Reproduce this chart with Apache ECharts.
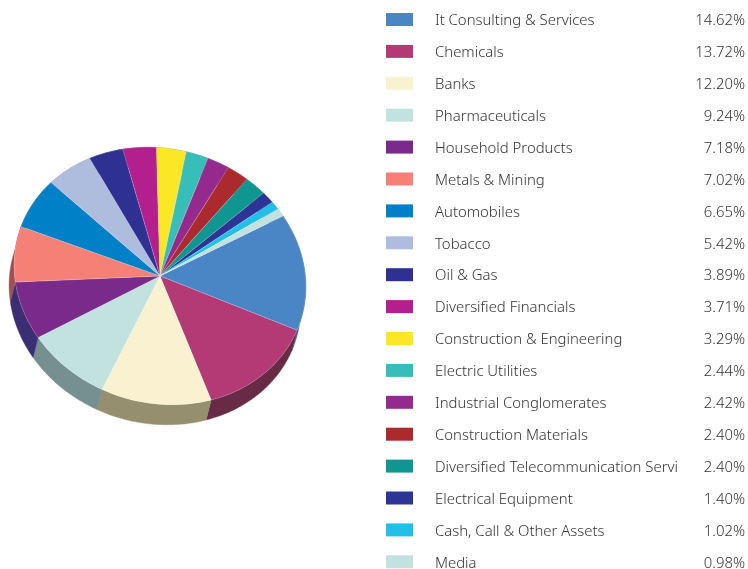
<!DOCTYPE html>
<html>
<head>
<meta charset="utf-8">
<title>Sector allocation</title>
<script src="https://cdn.jsdelivr.net/npm/echarts@6/dist/echarts.min.js"></script>
<style>
  html, body { margin: 0; padding: 0; background: #fff; }
  #chart { width: 748px; height: 569px; }
</style>
</head>
<body>
<div id="chart"></div>
<script>
// Sector names and portfolio weights (%), largest first.
const categories = [
  'It Consulting & Services', 'Chemicals', 'Banks', 'Pharmaceuticals',
  'Household Products', 'Metals & Mining', 'Automobiles', 'Tobacco', 'Oil & Gas',
  'Diversified Financials', 'Construction & Engineering', 'Electric Utilities',
  'Industrial Conglomerates', 'Construction Materials',
  'Diversified Telecommunication Servi', 'Electrical Equipment',
  'Cash, Call & Other Assets', 'Media'
];
const weights = [14.62, 13.72, 12.20, 9.24, 7.18, 7.02, 6.65, 5.42, 3.89, 3.71, 3.29, 2.44, 2.42, 2.40, 2.40, 1.40, 1.02, 0.98];
const weightLabels = ['14.62%', '13.72%', '12.20%', '9.24%', '7.18%', '7.02%', '6.65%', '5.42%', '3.89%', '3.71%', '3.29%', '2.44%', '2.42%', '2.40%', '2.40%', '1.40%', '1.02%', '0.98%'];
const faceColors = ['#4A86C5', '#B43A75', '#F9F1CF', '#C2E2DF', '#7A2A8B', '#F58176', '#0080C6', '#AEBCDE', '#2E3191', '#B41F8E', '#FBE725', '#38BEB9', '#952A8E', '#AA2A2E', '#109690', '#2C3596', '#22BFE8', '#C2E2DF'];
const wallColors = ['#45689A', '#672B46', '#958E6F', '#75908F', '#3B2E74', '#9E4F4F', '#00507C', '#6E7A90', '#1C1F5C', '#701358', '#9C9017', '#237774', '#5D1A58', '#6A1A1D', '#0A5E5A', '#1B215E', '#157890', '#75908F'];

// The tilted disc is an affine image of a circle: each share of the turn maps
// to axisU * cos + axisV * sin around the centre, in pixel-scaled axis units.
const axisU = [123, -60];
const axisV = [78.5, 114];
const wallDrop = [-5, 20];

const starts = weights.map((_, i) => weights.slice(0, i).reduce((a, b) => a + b, 0));
const total = weights.reduce((a, b) => a + b, 0);

function rimPoint(share, shift) {
  const t = share / total * Math.PI * 2;
  return [
    axisU[0] * Math.cos(t) + axisV[0] * Math.sin(t) + shift[0],
    axisU[1] * Math.cos(t) + axisV[1] * Math.sin(t) + shift[1]
  ];
}

function rimArc(start, size, shift) {
  const steps = Math.max(2, Math.ceil(size * 2));
  const pts = [];
  for (let k = 0; k <= steps; k++) pts.push(rimPoint(start + size * k / steps, shift));
  return pts;
}

const sliceRows = weights.map((w, i) => [w, starts[i], i]);

function renderFace(params, api) {
  const size = api.value(0), start = api.value(1), idx = api.value(2);
  const pts = [[0, 0]].concat(rimArc(start, size, [0, 0])).map(p => api.coord(p));
  return {
    type: 'polygon',
    shape: { points: pts },
    style: { fill: faceColors[idx], stroke: 'rgba(255,255,255,0.35)', lineWidth: 0.5 }
  };
}

function renderWall(params, api) {
  const size = api.value(0), start = api.value(1), idx = api.value(2);
  const upper = rimArc(start, size, [0, 0]);
  const lower = rimArc(start, size, wallDrop).reverse();
  return {
    type: 'polygon',
    shape: { points: upper.concat(lower).map(p => api.coord(p)) },
    style: { fill: wallColors[idx], stroke: wallColors[idx], lineWidth: 0.4 }
  };
}

const swatchLeft = 386, swatchWidth = 27, swatchHeight = 13;
const nameLeft = 435, valueRight = 745;
const textFont = { fontFamily: '"Noto Sans", sans-serif', fontSize: 14.9, fontWeight: 300 };

function renderRow(params, api) {
  const idx = api.value(0);
  const a = api.coord([swatchLeft, idx]);
  const nameAt = api.coord([nameLeft, idx]);
  const valueAt = api.coord([valueRight, idx]);
  return {
    type: 'group',
    children: [
      { type: 'rect',
        shape: { x: a[0], y: a[1] - swatchHeight / 2, width: swatchWidth, height: swatchHeight },
        style: { fill: faceColors[idx] } },
      { type: 'text',
        style: Object.assign({ x: nameAt[0], y: nameAt[1] + 1.5, text: categories[idx], fill: '#333333',
          align: 'left', verticalAlign: 'middle' }, textFont) },
      { type: 'text',
        style: Object.assign({ x: valueAt[0], y: valueAt[1] + 1.5, text: weightLabels[idx], fill: '#333333',
          align: 'right', verticalAlign: 'middle' }, textFont) }
    ]
  };
}

const chart = echarts.init(document.getElementById('chart'), null, { renderer: 'canvas' });
chart.setOption({
  animation: false,
  backgroundColor: '#ffffff',
  tooltip: { show: false },
  grid: [
    { left: 0, top: 0, width: 748, height: 569 },
    { left: 0, top: 19.5, width: 748, height: 542.3 }
  ],
  xAxis: [
    { gridIndex: 0, type: 'value', min: -160, max: 588, show: false },
    { gridIndex: 1, type: 'value', min: 0, max: 748, show: false }
  ],
  yAxis: [
    { gridIndex: 0, type: 'value', min: -276, max: 293, inverse: true, show: false },
    { gridIndex: 1, type: 'category', data: categories, inverse: true, boundaryGap: false, show: false }
  ],
  series: [
    { type: 'custom', name: 'Walls', xAxisIndex: 0, yAxisIndex: 0, silent: true, clip: false, z: 1,
      data: sliceRows, renderItem: renderWall },
    { type: 'custom', name: 'Faces', xAxisIndex: 0, yAxisIndex: 0, silent: true, clip: false, z: 2,
      data: sliceRows, renderItem: renderFace },
    { type: 'custom', name: 'Key', xAxisIndex: 1, yAxisIndex: 1, silent: true, clip: false, z: 3,
      encode: { y: 0 },
      data: categories.map((_, i) => [i]), renderItem: renderRow }
  ]
});
</script>
</body>
</html>
